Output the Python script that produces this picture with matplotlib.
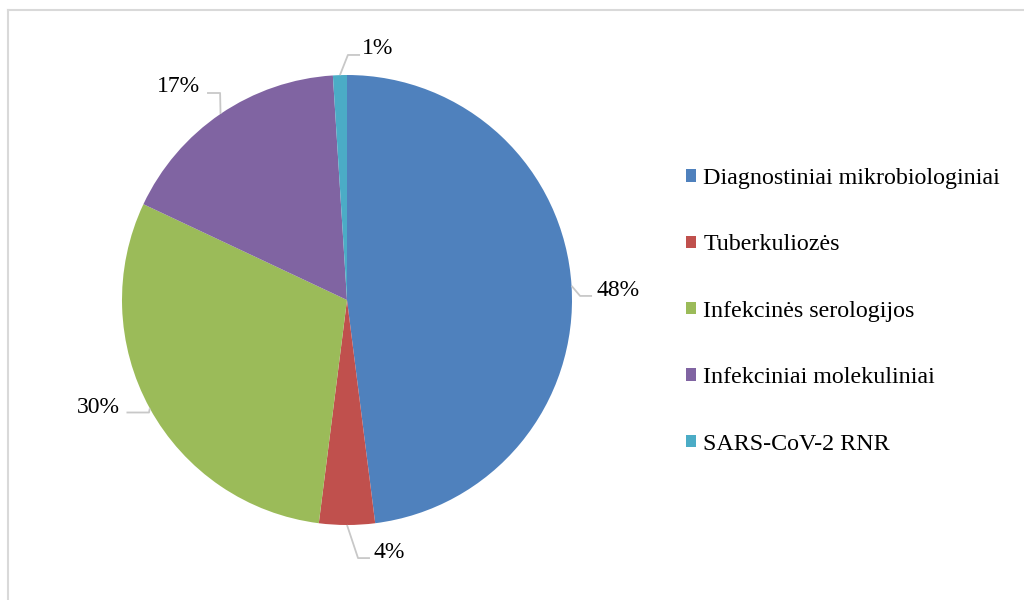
import numpy as np
import matplotlib.pyplot as plt
from matplotlib.lines import Line2D
from matplotlib.patches import Patch

plt.rcParams['font.family'] = ['Liberation Serif', 'DejaVu Serif']

categories = ["Diagnostiniai mikrobiologiniai", "Tuberkuliozės",
              "Infekcinės serologijos", "Infekciniai molekuliniai",
              "SARS-CoV-2 RNR"]
shares = [48, 4, 30, 17, 1]
colors = ["#4F81BD", "#C0504D", "#9BBB59", "#8064A2", "#4BACC6"]

# label text position, elbow of the leader and end of the leader (pie radius = 1)
label_pos = [(1.107, 0.04), (0.116, -1.12), (-1.009, -0.476), (-0.653, 0.947), (0.067, 1.12)]
label_ha = ["left", "left", "right", "right", "left"]
elbows = [(1.036, 0.018), (0.049, -1.147), (-0.88, -0.50), (-0.564, 0.92), (0.004, 1.089)]
ends = [(1.089, 0.018), (0.102, -1.147), (-0.98, -0.50), (-0.622, 0.92), (0.058, 1.089)]

fig = plt.figure(figsize=(10.24, 6), dpi=100)
ax = fig.add_axes([0, 0, 1, 1])

wedges, _ = ax.pie(shares, colors=colors, startangle=90, counterclock=False,
                   radius=1, center=(0, 0),
                   wedgeprops=dict(edgecolor="none", linewidth=0))

lead = "#C8C8C8"
for w, s, pos, ha, el, en in zip(wedges, shares, label_pos, label_ha, elbows, ends):
    ang = np.deg2rad((w.theta1 + w.theta2) / 2)
    edge = (np.cos(ang), np.sin(ang))
    ax.plot([edge[0], el[0], en[0]], [edge[1], el[1], en[1]],
            color=lead, lw=1.3, solid_capstyle="butt")
    ax.text(pos[0], pos[1], f"{s}%", ha=ha, va="center", fontsize=17, color="black")

ax.set_xlim(-347 / 225, (1024 - 347) / 225)
ax.set_ylim(-300 / 225, 300 / 225)
ax.set_aspect("auto")
ax.axis("off")

handles = [Patch(facecolor=c, edgecolor="none") for c in colors]
ax.legend(handles, categories, loc="upper left", bbox_to_anchor=(0.670, 0.72),
          bbox_transform=fig.transFigure, frameon=False, fontsize=17.3,
          handlelength=0.42, handleheight=0.42, handletextpad=0.3,
          labelspacing=1.89, borderpad=0, borderaxespad=0)

# chart area frame
frame = "#D9D9D9"
fig.add_artist(Line2D([7.5 / 1024, 7.5 / 1024], [0, 1 - 10 / 600], color=frame, lw=1.5))
fig.add_artist(Line2D([7.5 / 1024, 1], [1 - 10 / 600, 1 - 10 / 600], color=frame, lw=1.5))

fig.savefig("out.png", dpi=100)
